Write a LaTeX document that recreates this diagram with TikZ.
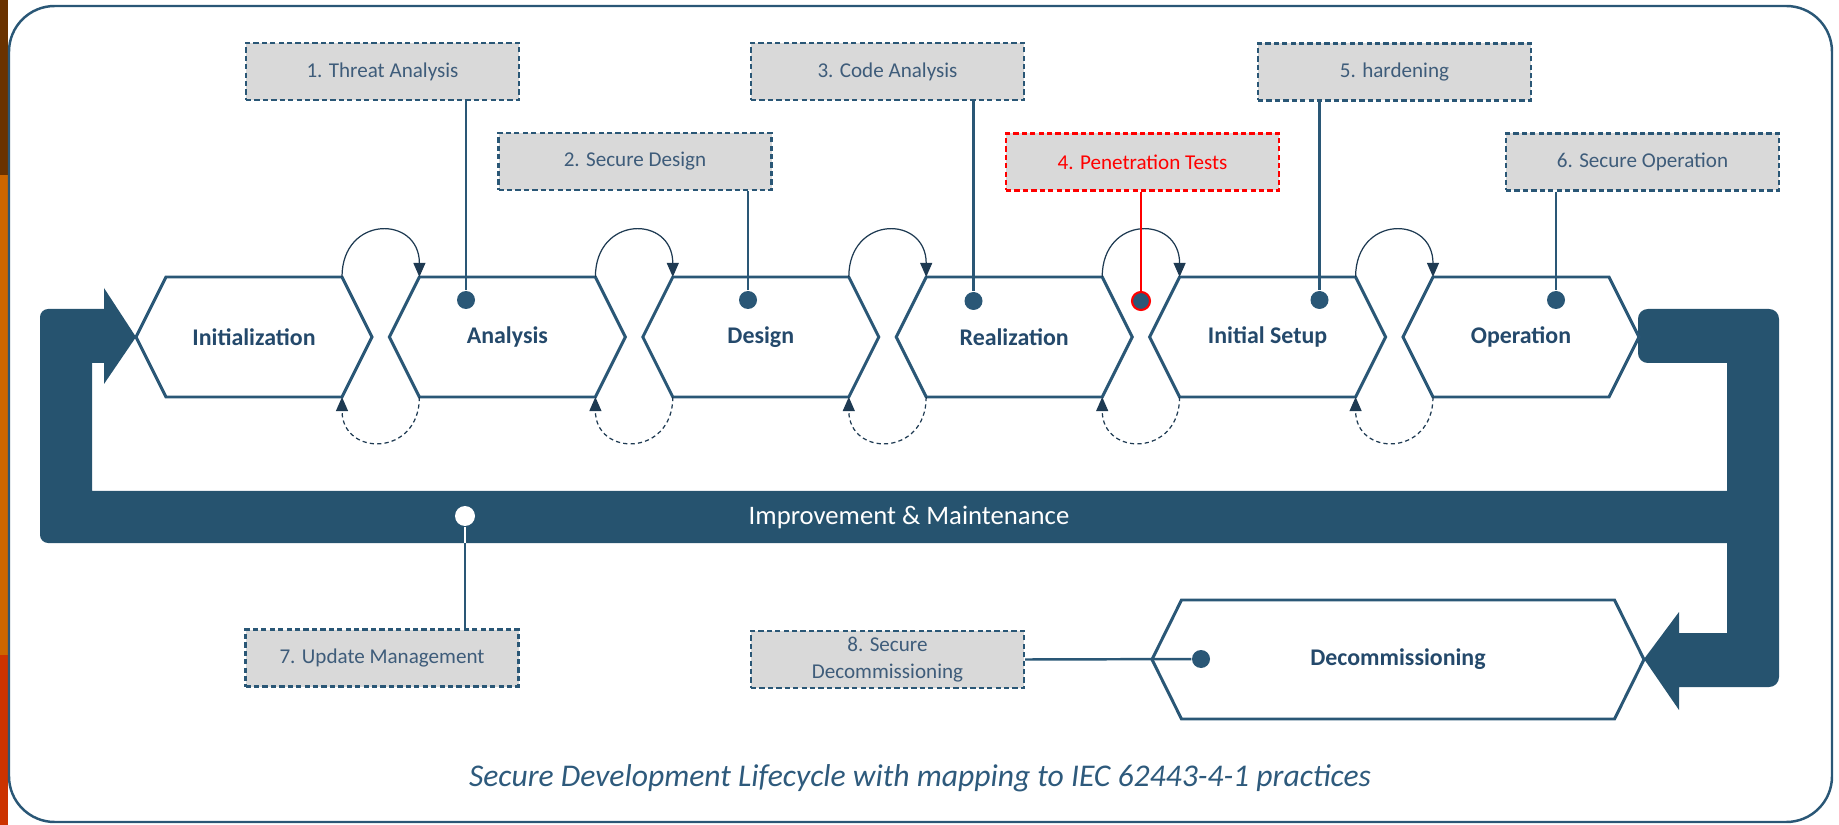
\documentclass[tikz,border=0pt]{standalone}
\usepackage{fontspec}
\setmainfont{Carlito}
\usepackage{xcolor}
\definecolor{sdlblue}{HTML}{26536F}
\definecolor{sdlline}{HTML}{2A5776}
\definecolor{sdldark}{HTML}{1E3A52}
\definecolor{sdltext}{HTML}{24496B}
\definecolor{sdlnote}{HTML}{3E5C7A}
\definecolor{sdlcap}{HTML}{2E5A7C}
\definecolor{sdlgray}{HTML}{D9D9D9}
\definecolor{sdlred}{HTML}{FF0000}
\definecolor{stripa}{HTML}{6A3200}
\definecolor{stripb}{HTML}{CC6600}
\definecolor{stripc}{HTML}{CC3300}
\usepackage{tikz}
\usetikzlibrary{positioning, arrows.meta, calc}
\tikzset{
    hexline/.style = {draw=sdlline, line width=0.85pt, fill=white},
    stage/.style = {font=\fontsize{6.8}{8}\selectfont\bfseries, text=sdltext},
    notebox/.style = {rectangle, draw=sdlline, dash pattern=on 1.5pt off 0.9pt,
                      line width=0.7pt, fill=sdlgray, minimum width=27.3mm,
                      minimum height=5.7mm, inner sep=0pt, align=center,
                      font=\fontsize{6}{7.6}\selectfont, text=sdlnote},
    rednote/.style = {notebox, draw=sdlred, text=sdlred},
    pindot/.style = {circle, fill=sdlline, inner sep=0pt, minimum size=1.8mm},
    link/.style = {draw=sdlline, line width=0.7pt},
    redlink/.style = {draw=sdlred, line width=0.7pt},
    arrow/.style = {-{Triangle[length=4pt, width=3.4pt]}, line width=0.35pt, color=sdldark},
    backarrow/.style = {arrow, dash pattern=on 1.2pt off 0.9pt},
}

\begin{document}
\begin{tikzpicture}[x=0.1mm, y=-0.1mm]
        \useasboundingbox (0,0) rectangle (1839,825);
        % strip on the left edge
        \fill[stripa] (0,0) rectangle (8,175);
        \fill[stripb] (0,175) rectangle (8,655);
        \fill[stripc] (0,655) rectangle (8,825);
        % frame
        \draw[sdlline, line width=0.7pt, rounded corners=13pt] (9,6) rectangle (1832,822);
        % improvement loop band
        \fill[sdlblue] (104,309) -- (104,288) -- (136,337) -- (104,384) -- (104,363)
              -- (92,363) -- (92,491) -- (1727,491) -- (1727,363) -- (1700,363)
              [rounded corners=2.8pt] -- (1638,363) -- (1638,309) -- (1779,309)
              -- (1779,687) -- (1720,687)
              [sharp corners] -- (1679,687) -- (1679,710) -- (1644,659) -- (1679,612)
              -- (1679,633) -- (1727,633) -- (1727,543) -- (1000,543)
              [rounded corners=2.3pt] -- (40,543) -- (40,309) -- (70,309)
              [sharp corners] -- cycle;
        \node[text=white, font=\fontsize{7.6}{9}\selectfont] (improve) at (909,517)
              {Improvement \& Maintenance};
        \coordinate (bandlow) at (0,543);
        % stages
        \foreach \n/\x/\lbl in {init/254/Initialization, ana/507.4/Analysis,
              des/760.8/Design, rea/1014.2/Realization, ini/1267.6/Initial Setup,
              ope/1521/Operation} {
          \draw[hexline] (\x-118,337) -- (\x-88,277) -- (\x+88,277) -- (\x+118,337)
                -- (\x+88,397) -- (\x-88,397) -- cycle;
          \node[stage] (\n) at (\x,337) {\lbl};
        }
        \draw[hexline] (1152,659.5) -- (1181.5,600) -- (1614.5,600) -- (1644,659.5)
              -- (1614.5,719) -- (1181.5,719) -- cycle;
        \node[stage] (dec) at (1398,659.5) {Decommissioning};
        % forward and backward steps
        \foreach \a/\b in {init/ana, ana/des, des/rea, rea/ini, ini/ope} {
          \draw[arrow] ($(\a)+(88,-60)$) .. controls +(0,-62) and +(0,-62) .. ($(\b)+(-88,-60)$);
          \draw[backarrow] ($(\b)+(-88,60)$) .. controls +(0,60) and +(0,60) .. ($(\a)+(88,60)$);
        }
        % practices
        \node[notebox] (n1) at (382.5,71.5) {1. Threat Analysis};
        \node[notebox] (n2) at (635,161.5) {2. Secure Design};
        \node[notebox] (n3) at (887.5,71.5) {3. Code Analysis};
        \node[rednote] (n4) at (1142.5,162) {4. Penetration Tests};
        \node[notebox] (n5) at (1394.5,72) {5. hardening};
        \node[notebox] (n6) at (1642.5,162) {6. Secure Operation};
        \node[notebox] (n7) at (382,658) {7. Update Management};
        \node[notebox] (n8) at (887.5,659.5) {8. Secure\\Decommissioning};
        % pins
        \node[pindot] (d1) at (466,300) {};
        \node[pindot] (d2) at (748,300) {};
        \node[pindot] (d3) at (973.5,301) {};
        \node[pindot, draw=sdlred, line width=0.6pt] (d4) at (1141,301) {};
        \node[pindot] (d5) at (1319.5,300) {};
        \node[pindot] (d6) at (1556,300) {};
        \node[pindot, fill=white, minimum size=2mm] (d7) at (465,516) {};
        \node[pindot] (d8) at (1201,659) {};
        \draw[link] (n1.south -| d1) -- (d1);
        \draw[link] (n2.south -| d2) -- (d2);
        \draw[link] (n3.south -| d3) -- (d3);
        \draw[redlink] (n4.south -| d4) -- (d4);
        \draw[link] (n5.south -| d5) -- (d5);
        \draw[link] (n6.south -| d6) -- (d6);
        \draw[link] (n7.north -| d7) -- (d7 |- bandlow);
        \draw[link, draw=white] (d7 |- bandlow) -- (d7);
        \draw[link] (n8.east) -- (d8);
        % caption
        \node[font=\fontsize{9}{11}\selectfont\itshape, text=sdlcap] (caption) at (920,778)
              {Secure Development Lifecycle with mapping to IEC 62443-4-1 practices};
\end{tikzpicture}
\end{document}
